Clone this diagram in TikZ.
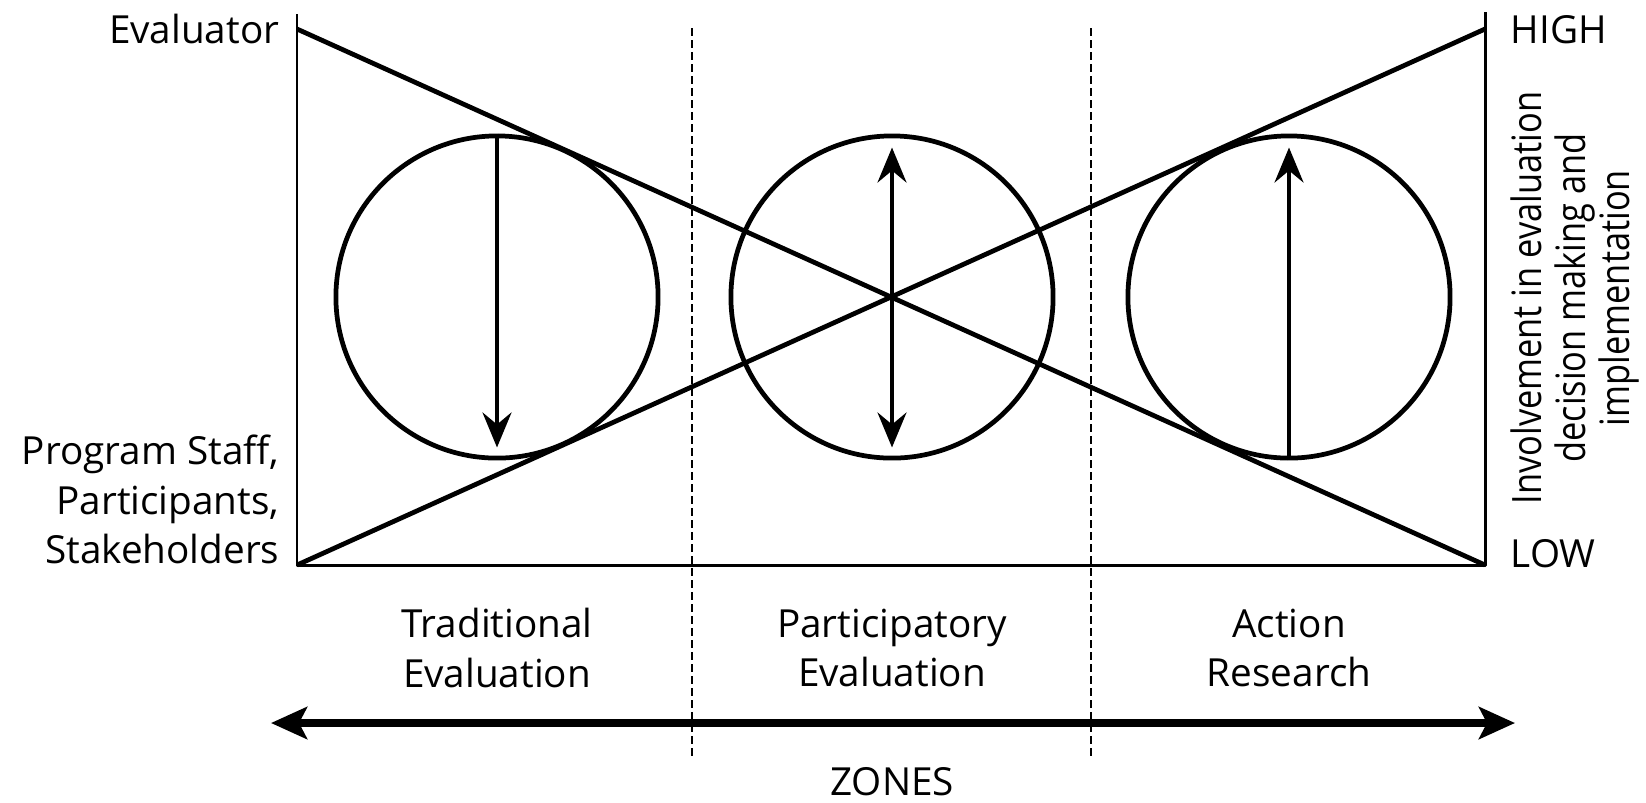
\documentclass[tikz,border=0pt]{standalone}
\usepackage{fontspec}
\setmainfont{Open Sans}
\newfontfamily\narrowsans[FakeStretch=0.85]{Open Sans}
\usetikzlibrary{arrows.meta}

\begin{document}
\begin{tikzpicture}[x=0.01cm, y=-0.01cm, line join=round]
    \tikzstyle{frame}=[line width=0.85pt]
    \tikzstyle{heavy}=[line width=1.35pt]
    \tikzstyle{ring}=[circle, draw, line width=1.35pt, minimum size=3.22cm, inner sep=0pt]
    \tikzstyle{zone line}=[line width=0.6pt, dash pattern=on 0.8mm off 0.4mm]
    \tikzstyle{flow}=[line width=1pt, -{Stealth[length=3.5mm, width=2.9mm, inset=1.2mm]}]
    \tikzstyle{flow both}=[line width=1pt, {Stealth[length=3.5mm, width=2.9mm, inset=1.2mm]}-{Stealth[length=3.5mm, width=2.9mm, inset=1.2mm]}]
    \tikzstyle{zones arrow}=[line width=2.5pt, {Stealth[length=3.6mm, width=3.2mm, inset=0.8mm]}-{Stealth[length=3.6mm, width=3.2mm, inset=0.8mm]}]
    \tikzstyle{label}=[inner sep=0pt, font=\fontsize{11}{14.2}\selectfont]
    \fill[white] (0,0) rectangle (1646,802);
    % frame and cross
    \coordinate (lefttop) at (297,14);
    \coordinate (righttop) at (1485,12);
    \coordinate (tl) at (297,29);
    \coordinate (tr) at (1485,29);
    \coordinate (bl) at (297,565);
    \coordinate (br) at (1485,565);
    \draw[frame] (lefttop) -- (bl) -- (br) -- (righttop);
    \draw[heavy] (tl) -- (br);
    \draw[heavy] (bl) -- (tr);
    % zone borders
    \coordinate (d1top) at (692,28);
    \coordinate (d1bot) at (692,756);
    \coordinate (d2top) at (1091,28);
    \coordinate (d2bot) at (1091,756);
    \draw[zone line] (d1top) -- (d1bot);
    \draw[zone line] (d2top) -- (d2bot);
    % circles
    \node[ring] (trad) at (497,297) {};
    \node[ring] (part) at (892,297) {};
    \node[ring] (act) at (1289,297) {};
    \draw[flow, shorten >=1.3mm] (trad.north) -- (trad.south);
    \draw[flow both, shorten >=1.3mm, shorten <=1.4mm] (part.north) -- (part.south);
    \draw[flow, shorten >=1.4mm] (act.south) -- (act.north);
    % labels
    \node[label, anchor=base east] (evaluator) at (280,43) {Evaluator};
    \node[label, anchor=south east, align=right] (staff) at (280,565) {Program Staff,\\Participants,\\Stakeholders};
    \node[label, anchor=base west] (high) at (1510,43) {HIGH};
    \node[label, anchor=base west] (low) at (1510,567) {LOW};
    \node[inner sep=0pt, rotate=90, align=center, font=\narrowsans\fontsize{11.5}{12.6}\selectfont] (involve) at (1575,298) {Involvement in evaluation\\decision making and\\implementation};
    \node[label, align=center] (tradlabel) at (497,648) {Traditional\\Evaluation};
    \node[label, align=center] (partlabel) at (892,648) {Participatory\\Evaluation};
    \node[label, align=center] (actlabel) at (1289,648) {Action\\Research};
    % zones axis
    \coordinate (zleft) at (271,723);
    \coordinate (zright) at (1515,723);
    \draw[zones arrow] (zleft) -- (zright);
    \node[label, anchor=base] (zones) at (892,795) {ZONES};
\end{tikzpicture}
\end{document}
